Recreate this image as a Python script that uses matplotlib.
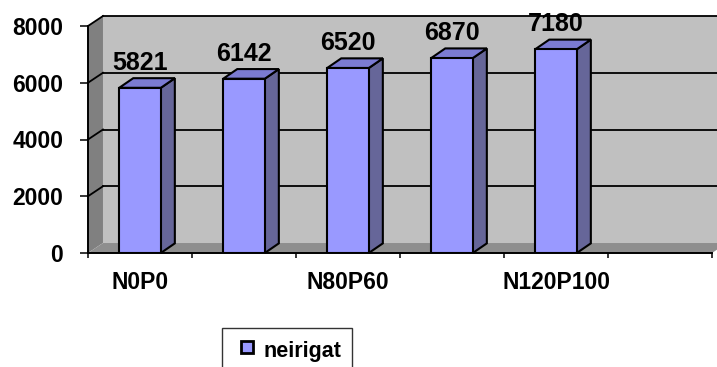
import numpy as np
import matplotlib.pyplot as plt
from matplotlib.patches import Polygon
from matplotlib.lines import Line2D

plt.rcParams['font.family'] = ['Liberation Sans', 'DejaVu Sans']
plt.rcParams['font.weight'] = 'bold'

# tratamente (doar unele etichete sunt afisate pe axa)
categorii = ["N0P0", "", "N80P60", "", "N120P100", ""]
valori = [5821, 6142, 6520, 6870, 7180]
serie = "neirigat"
yticks = [0, 2000, 4000, 6000, 8000]

fig = plt.figure(figsize=(7.17, 3.67), dpi=100)
ax = fig.add_axes([88 / 717, 1 - 253 / 367, 624 / 717, 227 / 367])

x0, x1 = -0.5, len(categorii) - 0.5
ymax = 8000
ax.set_xlim(x0, x1)
ax.set_ylim(0, ymax)
ax.patch.set_visible(False)

# adancimea peretilor 3D
dx, dy = 0.144, 352

# perete spate, perete lateral, podea
ax.add_patch(Polygon([(x0 + dx, dy), (x1 + dx, dy), (x1 + dx, ymax + dy), (x0 + dx, ymax + dy)],
                     closed=True, fc='#c0c0c0', ec='none', clip_on=False, zorder=0.5))
ax.add_patch(Polygon([(x0, 0), (x0 + dx, dy), (x0 + dx, ymax + dy), (x0, ymax)],
                     closed=True, fc='#808080', ec='none', clip_on=False, zorder=0.6))
ax.add_patch(Polygon([(x0, 0), (x1, 0), (x1 + dx, dy), (x0 + dx, dy)],
                     closed=True, fc='#8e8e8e', ec='none', clip_on=False, zorder=0.6))

# linii de grila pe peretii din spate si lateral
for v in yticks[1:]:
    ax.plot([x0 + dx, x1 + dx], [v + dy, v + dy], color='black', lw=1.3, clip_on=False, zorder=0.8)
    ax.plot([x0, x0 + dx], [v, v + dy], color='black', lw=1.3, clip_on=False, zorder=0.8)

# coloane 3D
w = 0.4
bdx, bdy = 0.135, 340
xs = np.arange(len(valori))
ax.bar(xs, valori, width=w, color='#9999ff', edgecolor='black', lw=1.5, zorder=4)
for i, v in zip(xs, valori):
    ax.add_patch(Polygon([(i + w / 2, 0), (i + w / 2 + bdx, bdy), (i + w / 2 + bdx, v + bdy), (i + w / 2, v)],
                         closed=True, fc='#666699', ec='black', lw=1.5, zorder=3, clip_on=False))
    ax.add_patch(Polygon([(i - w / 2, v), (i + w / 2, v), (i + w / 2 + bdx, v + bdy), (i - w / 2 + bdx, v + bdy)],
                         closed=True, fc='#7b7bd2', ec='black', lw=1.5, zorder=3, clip_on=False))
    ax.annotate(str(v), (i, v + bdy), xytext=(0, 6), textcoords='offset points',
                ha='center', va='baseline', fontsize=18, fontweight='bold', zorder=5)

# axe
for s in ['top', 'right']:
    ax.spines[s].set_visible(False)
for s in ['left', 'bottom']:
    ax.spines[s].set_linewidth(1.4)
    ax.spines[s].set_zorder(5)

ax.set_yticks(yticks)
ax.set_yticklabels([str(t) for t in yticks])
ax.tick_params(axis='y', length=5.8, width=1.1, pad=12, labelsize=16.5)

ax.set_xticks(np.arange(len(categorii)))
ax.set_xticklabels(categorii)
ax.set_xticks(np.arange(x0, x1 + 0.01, 1.0), minor=True)
ax.tick_params(axis='x', which='major', length=0, pad=13, labelsize=16.5)
ax.tick_params(axis='x', which='minor', length=3.6, width=1.1)

# legenda
handle = Line2D([], [], ls='none', marker='s', markersize=8.5, markerfacecolor='#9999ff',
                markeredgecolor='black', markeredgewidth=2)
leg = fig.legend([handle], [serie], loc='upper left', bbox_to_anchor=(222 / 717, 1 - 328 / 367),
                 borderaxespad=0, borderpad=0.45, handlelength=1.4, handleheight=1.3,
                 handletextpad=0.1, fancybox=False, frameon=True,
                 prop={'size': 15.5, 'weight': 'bold'})
leg.get_frame().set_edgecolor('black')
leg.get_frame().set_linewidth(1.0)

fig.savefig('out.png', dpi=100)
